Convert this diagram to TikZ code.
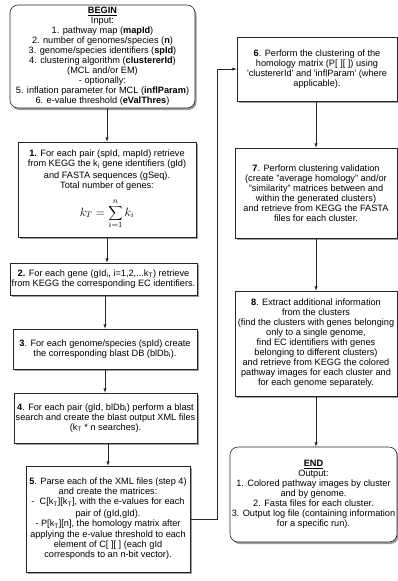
\documentclass[tikz,border=0pt]{standalone}
\usepackage{fontspec}
\setmainfont{Liberation Sans}
\usetikzlibrary{arrows, shadows}

\begin{document}
\begin{tikzpicture}[x=1pt, y=-1pt,
  every node/.style={font=\fontsize{9.2}{10}\selectfont, align=center, inner sep=1pt},
  stepbox/.style={draw=black!85, line width=.6pt, fill=white,
    drop shadow={shadow xshift=1.6pt, shadow yshift=-2pt, fill=black!70, opacity=.55}},
  endbox/.style={stepbox, rounded corners=8pt},
  arr/.style={-latex, line width=.5pt, black!85}]
\useasboundingbox (0,0) rectangle (398,581);
\draw (102.5,56.5) node[endbox, minimum width=185pt, minimum height=103pt] (begin)
  {\underline{\textbf{BEGIN}}\\ Input:\\ 1. pathway map (\textbf{mapId})\\
   2. number of genomes/species (\textbf{n})\\ 3. genome/species identifiers (\textbf{spId})\\
   4. clustering algorithm (\textbf{clustererId})\\ (MCL and/or EM)\\ - optionally:\\
   5. inflation parameter for MCL (\textbf{inflParam})\\ 6. e-value threshold (\textbf{eValThres})};
\draw (107,189.5) node[stepbox, minimum width=178pt, minimum height=95pt] (one)
  {\textbf{1.} For each pair (spId, mapId) retrieve\\
   from KEGG the k\textsubscript{i} gene identifiers (gId)\\[2pt]
   and FASTA sequences (gSeq).\\ Total number of genes:\\[7pt]
   {\fontsize{11.5}{13}\selectfont$\displaystyle k_T = \sum_{i=1}^{n} k_i$}};
\draw (103.5,279) node[stepbox, minimum width=187pt, minimum height=32pt] (two)
  {\textbf{2.} For each gene (gId\textsubscript{i}, i=1,2,...k\textsubscript{T}) retrieve\\
   from KEGG the corresponding EC identifiers.};
\draw (105,349) node[stepbox, minimum width=184pt, minimum height=40pt] (three)
  {\textbf{3}. For each genome/species (spId) create\\
   the corresponding blast DB (blDb\textsubscript{i}).};
\draw (105.5,418) node[stepbox, minimum width=183pt, minimum height=50pt] (four)
  {\textbf{4}. For each pair (gId, blDb\textsubscript{i}) perform a blast\\
   search and create the blast output XML files\\
   (k\textsubscript{T} * n searches).};
\draw (108,519) node[stepbox, minimum width=164pt, minimum height=106pt] (five)
  {\textbf{5}. Parse each of the XML files (step 4)\\ and create the matrices:\\
   -\ \ C[k\textsubscript{T}][k\textsubscript{T}], with the e-values for each\\[2pt]
   pair of (gId,gId).\\
   - P[k\textsubscript{T}][n], the homology matrix after\\[1pt]
   applying the e-value threshold to each\\ element of C[ ][ ] (each gId\\
   corresponds to an n-bit vector).};
\draw (317,69) node[stepbox, minimum width=160pt, minimum height=64pt] (six)
  {\textbf{6}. Perform the clustering of the\\ homology matrix (P[ ][ ]) using\\
   \textquotesingle clustererId\textquotesingle{} and \textquotesingle inflParam\textquotesingle{} (where\\ applicable).};
\draw (316,193) node[stepbox, minimum width=162pt, minimum height=90pt] (seven)
  {\textbf{7}. Perform clustering validation\\ (create "average homology" and/or\\
   "similarity" matrices between and\\ within the generated clusters)\\
   and retrieve from KEGG the FASTA\\ files for each cluster.};
\draw (316,343.5) node[stepbox, minimum width=162pt, minimum height=105pt] (eight)
  {\textbf{8}. Extract additional information\\ from the clusters\\
   (find the clusters with genes belonging\\ only to a single genome,\\
   find EC identifiers with genes\\ belonging to different clusters)\\
   and retrieve from KEGG the colored\\ pathway images for each cluster and\\
   for each genome separately.};
\draw (313.5,494.5) node[endbox, minimum width=167pt, minimum height=95pt] (end)
  {\underline{\textbf{END}}\\ Output:\\ 1. Colored pathway images by cluster\\
   and by genome.\\ 2. Fasta files for each cluster.\\
   3. Output log file (containing information\\ for a specific run).};
\coordinate (turn) at (217,519);
\draw[arr] (begin.south -| one.north) -- (one.north);
\draw[arr] (one.south) -- (one.south |- two.north);
\draw[arr] (three.north |- two.south) -- (three.north);
\draw[arr] (three.south) -- (three.south |- four.north);
\draw[arr] (five.north |- four.south) -- (five.north);
\draw[arr] (five.east) -- (turn) |- (six.west);
\draw[arr] (six.south -| seven.north) -- (seven.north);
\draw[arr] (seven.south) -- (seven.south |- eight.north);
\draw[arr] (eight.south) -- (eight.south |- end.north);
\end{tikzpicture}
\end{document}
